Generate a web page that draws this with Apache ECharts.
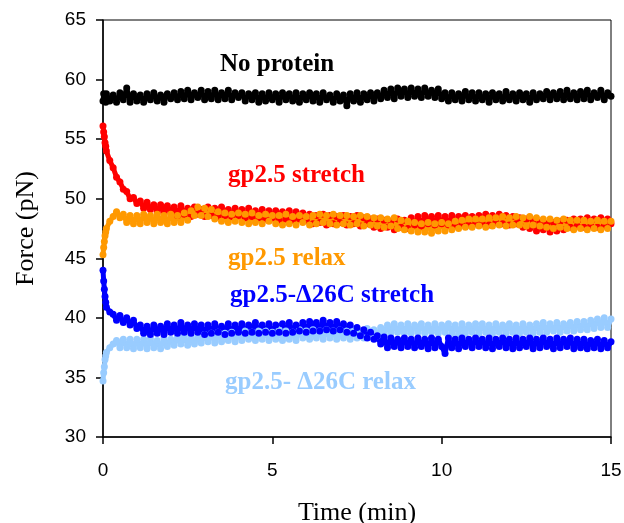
<!DOCTYPE html>
<html>
<head>
<meta charset="utf-8">
<style>html,body{margin:0;padding:0;background:#fff}#chart{width:624px;height:523px}</style>
<script src="https://cdn.jsdelivr.net/npm/echarts@6/dist/echarts.min.js"></script>
</head>
<body>
<div id="chart"></div>
<script>
// Time points (min)
var times = [0,0.02,0.04,0.06,0.08,
0.1,0.2,0.3,0.4,0.5,0.6,0.7,0.8,0.9,1.0,
1.1,1.2,1.3,1.4,1.5,1.6,1.7,1.8,1.9,2.0,
2.1,2.2,2.3,2.4,2.5,2.6,2.7,2.8,2.9,3.0,
3.1,3.2,3.3,3.4,3.5,3.6,3.7,3.8,3.9,4.0,
4.1,4.2,4.3,4.4,4.5,4.6,4.7,4.8,4.9,5.0,
5.1,5.2,5.3,5.4,5.5,5.6,5.7,5.8,5.9,6.0,
6.1,6.2,6.3,6.4,6.5,6.6,6.7,6.8,6.9,7.0,
7.1,7.2,7.3,7.4,7.5,7.6,7.7,7.8,7.9,8.0,
8.1,8.2,8.3,8.4,8.5,8.6,8.7,8.8,8.9,9.0,
9.1,9.2,9.3,9.4,9.5,9.6,9.7,9.8,9.9,10.0,
10.1,10.2,10.3,10.4,10.5,10.6,10.7,10.8,10.9,11.0,
11.1,11.2,11.3,11.4,11.5,11.6,11.7,11.8,11.9,12.0,
12.1,12.2,12.3,12.4,12.5,12.6,12.7,12.8,12.9,13.0,
13.1,13.2,13.3,13.4,13.5,13.6,13.7,13.8,13.9,14.0,
14.1,14.2,14.3,14.4,14.5,14.6,14.7,14.8,14.9,15.0];

// Force (pN) — No protein
var noProtein = [58.2,58.8,58.3,58.7,58.1,
58.8,58.2,58.7,58.1,58.9,58.3,59.3,58.1,58.8,58.2,
58.7,58.1,58.8,58.3,58.9,58.2,58.7,58.1,58.8,58.4,
58.9,58.3,59.0,58.4,59.1,58.3,58.9,58.5,59.1,58.3,
59.0,58.4,59.1,58.3,58.9,58.4,59.1,58.3,58.9,58.5,
58.9,58.2,58.8,58.3,58.9,58.1,58.8,58.2,58.9,58.3,
58.8,58.1,58.9,58.3,58.8,58.2,58.9,58.1,58.8,58.3,
58.9,58.2,58.8,58.1,58.9,58.3,58.7,58.1,58.8,58.2,
58.7,57.8,58.8,58.2,58.9,58.1,58.8,58.3,58.9,58.2,
58.9,58.4,59.1,58.5,59.2,58.4,59.3,58.6,59.2,58.5,
59.3,58.6,59.2,58.5,59.3,58.6,59.1,58.5,59.2,58.4,
58.9,58.2,58.9,58.3,58.8,58.2,59.0,58.3,58.9,58.2,
58.9,58.3,58.8,58.1,58.9,58.3,58.8,58.2,59.0,58.3,
58.8,58.2,58.9,58.3,58.8,58.1,58.9,58.3,58.8,58.4,
59.0,58.3,58.9,58.4,59.0,58.3,59.1,58.4,58.9,58.3,
59.0,58.4,59.1,58.3,58.9,58.5,59.1,58.3,58.9,58.6];

// gp2.5 stretch
var gpStretch = [56.1,55.6,55.2,54.7,54.4,
54.0,53.2,52.6,51.8,51.4,50.8,50.6,50.0,50.1,49.6,
49.8,49.2,49.7,49.1,49.5,48.9,49.5,48.8,49.4,48.9,
49.3,48.6,49.4,48.7,49.2,48.5,49.3,48.7,49.1,48.5,
49.3,48.6,49.2,48.5,49.3,48.6,49.1,48.5,49.2,48.6,
49.1,48.4,49.2,48.5,49.0,48.4,49.1,48.3,49.0,48.4,
49.0,48.2,48.9,48.3,49.0,48.2,48.9,48.3,48.8,48.2,
48.7,47.9,48.6,48.0,48.7,47.8,48.6,47.9,48.5,48.0,
48.6,47.8,48.5,47.9,48.6,47.7,48.4,47.9,48.3,47.6,
48.3,47.5,48.2,47.6,48.1,47.4,48.3,47.6,48.2,47.5,
48.4,47.8,48.5,47.7,48.6,47.9,48.5,47.8,48.6,47.9,
48.5,47.8,48.6,47.7,48.5,47.9,48.6,47.8,48.5,47.9,
48.6,47.9,48.7,47.8,48.6,48.0,48.7,47.9,48.6,47.8,
48.5,47.9,48.4,47.6,48.3,47.5,48.2,47.3,48.0,47.4,
47.9,47.2,48.0,47.3,48.1,47.4,48.2,47.6,48.3,47.7,
48.3,47.6,48.4,47.7,48.3,47.6,48.4,47.7,48.3,47.9];

// gp2.5 relax
var gpRelax = [45.3,45.9,46.4,46.9,47.2,
47.5,48.1,48.5,48.9,48.4,48.7,48.0,48.6,47.9,48.6,
47.9,48.7,48.0,48.6,47.9,48.7,48.0,48.6,47.9,48.7,
48.0,48.6,48.0,48.8,48.2,49.0,48.6,49.3,48.6,49.2,
48.5,49.1,48.3,48.9,48.1,48.8,48.0,48.7,48.1,48.8,
48.0,48.7,47.9,48.8,48.0,48.6,47.9,48.7,48.1,48.6,
47.9,48.6,47.8,48.7,47.9,48.5,47.8,48.6,48.0,48.5,
47.8,48.6,47.9,48.7,48.0,48.6,47.9,48.7,47.8,48.6,
47.9,48.6,47.8,48.5,47.9,48.6,47.7,48.5,47.8,48.4,
47.7,48.4,47.6,48.3,47.7,48.4,47.5,48.2,47.4,48.1,
47.3,48.0,47.2,47.9,47.2,48.0,47.1,47.9,47.3,48.0,
47.3,47.9,47.4,48.1,47.5,48.2,47.6,48.3,47.6,48.3,
47.7,48.3,47.6,48.4,47.7,48.4,47.8,48.5,47.7,48.4,
47.8,48.5,47.8,48.4,47.7,48.5,47.8,48.4,47.7,48.3,
47.6,48.3,47.5,48.2,47.6,48.3,47.5,48.2,47.4,48.2,
47.5,48.2,47.4,48.1,47.5,48.2,47.4,48.1,47.5,48.1];

// gp2.5-Δ26C stretch
var d26Stretch = [44.0,43.1,42.4,41.8,41.3,
40.9,40.5,40.3,39.8,40.2,39.6,40.0,39.4,39.8,39.1,
39.4,38.7,39.3,38.6,39.4,38.7,39.3,38.6,39.5,38.8,
39.4,38.7,39.6,38.8,39.4,38.7,39.5,38.8,39.4,38.6,
39.4,38.7,39.5,38.8,39.3,38.6,39.5,38.7,39.4,38.8,
39.5,38.7,39.4,38.8,39.6,38.7,39.4,38.8,39.5,38.7,
39.4,38.8,39.5,38.7,39.6,38.8,39.4,38.9,39.6,38.8,
39.7,38.9,39.6,38.9,39.8,39.0,39.6,38.9,39.7,39.0,
39.5,38.8,39.4,38.7,39.2,38.5,39.0,38.3,38.8,38.2,
38.5,37.8,38.4,37.5,38.3,37.6,38.2,37.5,38.3,37.6,
38.2,37.5,38.3,37.6,38.2,37.4,38.3,37.5,38.2,37.6,
37.0,38.3,37.5,38.2,37.4,38.3,37.6,38.2,37.5,38.3,
37.6,38.2,37.5,38.3,37.4,38.2,37.6,38.3,37.5,38.2,
37.4,38.3,37.5,38.2,37.6,38.3,37.4,38.2,37.5,38.3,
37.6,38.2,37.4,38.3,37.5,38.2,37.6,38.3,37.4,38.2,
37.5,38.2,37.4,38.1,37.5,38.2,37.4,38.1,37.5,38.0];

// gp2.5- Δ26C relax
var d26Relax = [34.7,35.4,35.9,36.5,36.8,
37.1,37.5,37.8,38.1,37.5,38.2,37.5,38.2,37.4,38.2,
37.5,38.2,37.4,38.3,37.5,38.1,37.4,38.3,37.6,38.2,
37.7,38.4,37.8,38.5,37.7,38.5,37.8,38.4,37.9,38.6,
38.0,38.7,37.9,38.8,38.0,38.7,38.1,38.8,38.0,38.7,
38.1,38.9,38.2,38.8,38.1,38.9,38.2,38.9,38.1,38.8,
38.2,39.0,38.1,38.9,38.2,38.8,38.1,39.0,38.3,38.9,
38.2,39.0,38.3,38.9,38.2,39.0,38.3,38.9,38.2,39.0,
38.3,38.9,38.2,39.0,38.3,38.9,38.3,39.1,38.4,39.0,
38.5,39.2,38.6,39.4,38.7,39.5,38.8,39.4,38.7,39.5,
38.7,39.4,38.8,39.5,38.7,39.4,38.8,39.5,38.7,39.4,
38.8,39.5,38.7,39.4,38.6,39.5,38.7,39.4,38.8,39.5,
38.7,39.5,38.8,39.4,38.7,39.5,38.8,39.4,38.7,39.5,
38.8,39.4,38.7,39.5,38.8,39.4,38.7,39.5,38.8,39.6,
38.8,39.5,38.9,39.6,38.8,39.5,38.9,39.6,38.9,39.7,
39.0,39.7,39.0,39.8,39.1,39.9,39.2,40.0,39.2,39.9];

var xTicks = [0, 5, 10, 15];
var yTicks = [30, 35, 40, 45, 50, 55, 60, 65];

function pairs(vals) {
  var out = [];
  for (var i = 0; i < vals.length; i++) out.push([times[i], vals[i]]);
  return out;
}
function mkSeries(name, vals, color) {
  return {
    name: name, type: 'line', data: pairs(vals),
    symbol: 'circle', symbolSize: 7, showSymbol: true, showAllSymbol: true,
    lineStyle: { color: color, width: 5 },
    itemStyle: { color: color },
    emphasis: { disabled: true },
    animation: false
  };
}

var chart = echarts.init(document.getElementById('chart'), null, { renderer: 'canvas' });
var labelFont = 'bold 25px "Liberation Serif", "Times New Roman", serif';
chart.setOption({
  animation: false,
  backgroundColor: '#ffffff',
  grid: { left: 103, right: 13, top: 20, bottom: 86, show: true, borderColor: '#000', borderWidth: 1,
          containLabel: false, outerBoundsMode: 'none' },
  xAxis: {
    type: 'value', min: xTicks[0], max: xTicks[xTicks.length - 1], interval: 5,
    name: 'Time (min)', nameLocation: 'middle', nameGap: 63,
    nameTextStyle: { fontFamily: 'Liberation Serif', fontSize: 26, color: '#000' },
    axisLine: { lineStyle: { color: '#000', width: 1.5 } },
    axisTick: { show: true, inside: false, length: 7, lineStyle: { color: '#000', width: 1.5 } },
    axisLabel: { margin: 24, fontFamily: 'Liberation Sans', fontSize: 19, color: '#000' },
    splitLine: { show: false }
  },
  yAxis: {
    type: 'value', min: yTicks[0], max: yTicks[yTicks.length - 1], interval: 5,
    name: 'Force (pN)', nameLocation: 'middle', nameGap: 64,
    nameTextStyle: { fontFamily: 'Liberation Serif', fontSize: 26, color: '#000' },
    axisLine: { lineStyle: { color: '#000', width: 1.5 } },
    axisTick: { show: true, inside: false, length: 7, lineStyle: { color: '#000', width: 1.5 } },
    axisLabel: { margin: 17, fontFamily: 'Liberation Sans', fontSize: 19, color: '#000' },
    splitLine: { show: false }
  },
  series: [
    mkSeries('No protein', noProtein, '#000000'),
    mkSeries('gp2.5 stretch', gpStretch, '#ff0000'),
    mkSeries('gp2.5 relax', gpRelax, '#ff9900'),
    mkSeries('gp2.5- Δ26C relax', d26Relax, '#99ccff'),
    mkSeries('gp2.5-Δ26C stretch', d26Stretch, '#0000ff')
  ],
  graphic: [
    { type: 'text', left: 220, top: 52, style: { text: 'No protein', font: labelFont, fill: '#000000' } },
    { type: 'text', left: 228, top: 163, style: { text: 'gp2.5 stretch', font: labelFont, fill: '#ff0000' } },
    { type: 'text', left: 228, top: 246, style: { text: 'gp2.5 relax', font: labelFont, fill: '#ff9900' } },
    { type: 'text', left: 230, top: 283, style: { text: 'gp2.5-Δ26C stretch', font: labelFont, fill: '#0000ff' } },
    { type: 'text', left: 225, top: 370, style: { text: 'gp2.5- Δ26C relax', font: labelFont, fill: '#99ccff' } }
  ]
});
</script>
</body>
</html>
